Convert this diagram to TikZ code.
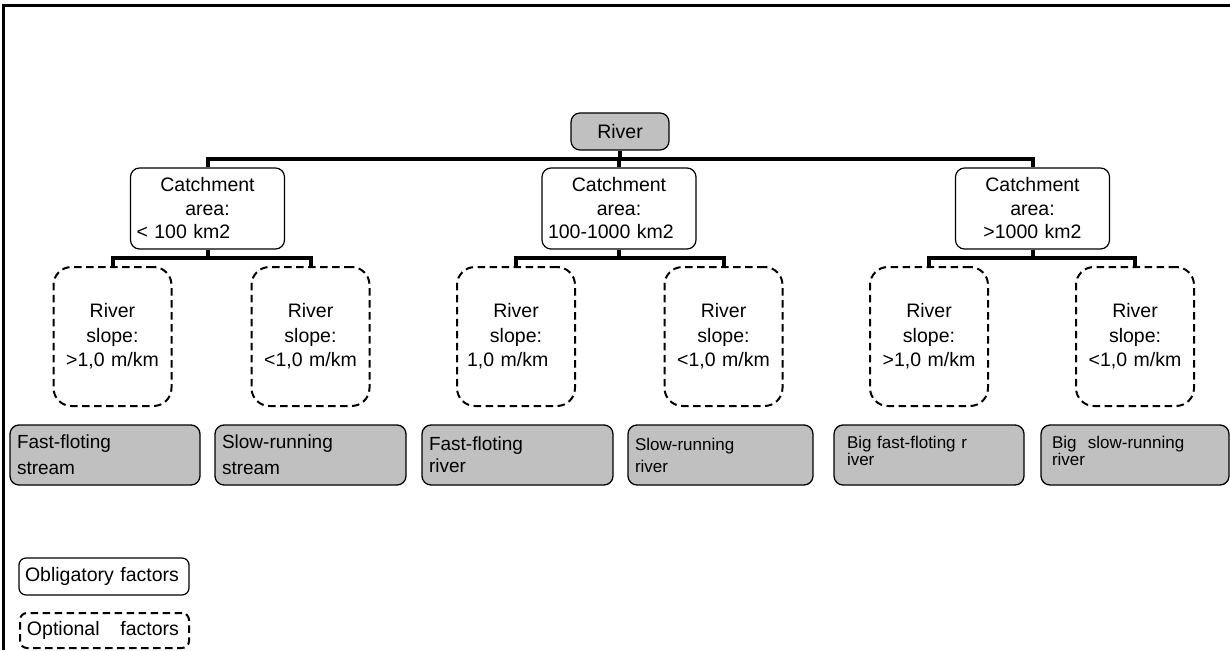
\documentclass[tikz,border=0pt]{standalone}
\usepackage{fontspec}
\setmainfont{Liberation Sans}
\definecolor{boxgray}{RGB}{192,192,192}
\begin{document}
\begin{tikzpicture}[x=1pt,y=-1pt,
  base/.style={inner ysep=0pt, font=\fontsize{19.5}{23.5}\selectfont},
  solidbox/.style={base, draw, line width=1.2pt, rounded corners=9pt, align=center},
  dashbox/.style={base, draw, line width=2pt, dash pattern=on 7.5pt off 4.5pt, rounded corners=18pt, align=center},
  graybox/.style={base, draw, fill=boxgray, line width=1.3pt, rounded corners=9pt, align=left},
  conn/.style={line width=4pt},
  frame/.style={line width=2.5pt}
]
\useasboundingbox (0,0) rectangle (1230,650);

% frame
\coordinate (fl) at (3.5,5.5);
\coordinate (fr) at (1230,5.5);
\coordinate (fb) at (3.5,650);
\draw[frame] (fr) -- (fl) -- (fb);

% top
\node[solidbox, fill=boxgray, inner xsep=0pt, text width=98pt, minimum height=37pt] (river) at (620,131.5) {River};

% catchment
\tikzset{catch/.style={solidbox, inner xsep=6pt, text width=142pt, minimum height=81pt}}
\node[catch] (c1) at (207.5,208.5) {Catchment\\area:\\\makebox[142pt][l]{< 100 km2}};
\node[catch] (c2) at (619,208.5) {Catchment\\area:\\\makebox[142pt][l]{100-1000 km2}};
\node[catch] (c3) at (1032.5,208.5) {Catchment\\area:\\>1000 km2};

% slope boxes
\tikzset{slope/.style={dashbox, inner xsep=8pt, text width=102pt, minimum height=139pt, font=\fontsize{19.5}{24.5}\selectfont}}
\node[slope] (d1a) at (112.5,336.5) {River\\slope:\\>1,0 m/km};
\node[slope] (d1b) at (310.5,336.5) {River\\slope:\\<1,0 m/km};
\node[slope] (d2a) at (516,336.5) {River\\slope:\\\makebox[102pt][l]{\hspace{2pt}1,0 m/km}};
\node[slope] (d2b) at (723.5,336.5) {River\\slope:\\<1,0 m/km};
\node[slope] (d3a) at (929,336.5) {River\\slope:\\>1,0 m/km};
\node[slope] (d3b) at (1135,336.5) {River\\slope:\\<1,0 m/km};

% result boxes
\node[graybox, inner xsep=7pt, text width=176pt, minimum height=60pt, font=\fontsize{19}{26}\selectfont] (g1) at (105,455) {Fast-floting\\stream};
\node[graybox, inner xsep=7pt, text width=177pt, minimum height=60pt, font=\fontsize{19}{26}\selectfont] (g2) at (310.5,455) {Slow-running\\stream};
\node[graybox, inner xsep=7pt, text width=177pt, minimum height=60pt, font=\fontsize{19}{22}\selectfont] (g3) at (517.5,455) {Fast-floting\\river};
\node[graybox, inner xsep=7pt, text width=171pt, minimum height=60pt, font=\fontsize{17}{22}\selectfont] (g4) at (720.5,455) {Slow-running\\river};
\node[graybox, inner xsep=13pt, text width=164pt, minimum height=60pt, font=\fontsize{17}{15}\selectfont] (g5) at (929,455) {Big fast-floting r\\iver\rule[-8pt]{0pt}{0pt}};
\node[graybox, inner xsep=11pt, text width=166pt, minimum height=60pt, font=\fontsize{17}{15}\selectfont] (g6) at (1135,455) {Big\ \ slow-running\\river\rule[-8pt]{0pt}{0pt}};

% legend
\node[solidbox, align=left, inner xsep=6pt, text width=158pt, minimum height=37pt, rounded corners=7pt] (leg1) at (104,576.5) {Obligatory factors};
\node[dashbox, align=left, inner xsep=7pt, text width=155pt, minimum height=35pt, rounded corners=7pt] (leg2) at (104.5,630.5) {\makebox[152pt][s]{Optional\hspace{0pt plus 1fill}factors}};

% connectors level 1
\path (river.south) ++(0,8) coordinate (bus);
\draw[conn] (river.south) -- (bus);
\draw[conn] (c1.north) |- (bus) -| (c3.north);
\draw[conn] (c2.north) -- (c2.north |- bus);

% connectors level 2
\path (c1.south) ++(0,8) coordinate (b1);
\path (c2.south) ++(0,8) coordinate (b2);
\path (c3.south) ++(0,8) coordinate (b3);
\draw[conn] (c1.south) -- (b1);
\draw[conn] (d1a.north) |- (b1) -| (d1b.north);
\draw[conn] (c2.south) -- (b2);
\draw[conn] (d2a.north) |- (b2) -| (d2b.north);
\draw[conn] (c3.south) -- (b3);
\draw[conn] (d3a.north) |- (b3) -| (d3b.north);
\end{tikzpicture}
\end{document}
